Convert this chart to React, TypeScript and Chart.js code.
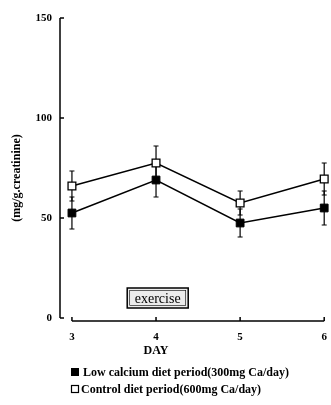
import React, { useEffect, useRef } from "react";
import { Chart, registerables } from "chart.js";
Chart.register(...registerables);

const days = [3, 4, 5, 6];
const lowCalcium = [52.5, 69, 47.5, 55];
const lowCalciumErr = [8, 8.5, 7, 8.5];
const control = [66, 77.5, 57.5, 69.5];
const controlErr = [7.5, 8.5, 6, 8];
const yTicks = [0, 50, 100, 150];
const xTicks = [3, 4, 5, 6];
const lowLabel = "Low calcium diet period(300mg Ca/day)";
const controlLabel = "Control diet period(600mg Ca/day)";
const yTitle = "(mg/g.creatinine)";
const xTitle = "DAY";
const boxText = "exercise";
const boxAt = { x: 4.02, y: 10 };

const FONT = "'Liberation Serif', 'DejaVu Serif', serif";

const drawPlugin = {
  id: "paperDraw",
  beforeDatasetsDraw(chart: any) {
    const ctx = chart.ctx;
    const xs = chart.scales.x;
    const ys = chart.scales.y;
    ctx.save();
    ctx.strokeStyle = "#000";
    ctx.fillStyle = "#000";
    ctx.lineWidth = 1.5;
    // y axis
    const x0 = chart.chartArea.left;
    ctx.beginPath();
    ctx.moveTo(x0, ys.getPixelForValue(0));
    ctx.lineTo(x0, ys.getPixelForValue(150));
    ctx.stroke();
    ctx.font = `bold 11px ${FONT}`;
    ctx.textAlign = "right";
    ctx.textBaseline = "middle";
    yTicks.forEach((t) => {
      const py = ys.getPixelForValue(t);
      ctx.beginPath();
      ctx.moveTo(x0, py);
      ctx.lineTo(x0 + 4, py);
      ctx.stroke();
      ctx.fillText(String(t), x0 - 8, py);
    });
    // x axis
    const yb = ys.getPixelForValue(0) + 3;
    ctx.beginPath();
    ctx.moveTo(xs.getPixelForValue(3), yb);
    ctx.lineTo(xs.getPixelForValue(6), yb);
    ctx.stroke();
    ctx.textAlign = "center";
    xTicks.forEach((t) => {
      const px = xs.getPixelForValue(t);
      ctx.beginPath();
      ctx.moveTo(px, yb);
      ctx.lineTo(px, yb - 4);
      ctx.stroke();
      ctx.fillText(String(t), px, yb + 16);
    });
    ctx.font = `bold 12px ${FONT}`;
    ctx.fillText(xTitle, xs.getPixelForValue(4), yb + 30);
    // y title
    ctx.save();
    ctx.translate(17, 178);
    ctx.rotate(-Math.PI / 2);
    ctx.font = `bold 12px ${FONT}`;
    ctx.fillText(yTitle, 0, 0);
    ctx.restore();
    // exercise box
    const bx = xs.getPixelForValue(boxAt.x);
    const by = ys.getPixelForValue(boxAt.y);
    const bw = 61, bh = 20;
    ctx.fillStyle = "#ececec";
    ctx.fillRect(bx - bw / 2, by - bh / 2, bw, bh);
    ctx.lineWidth = 1.5;
    ctx.strokeRect(bx - bw / 2, by - bh / 2, bw, bh);
    ctx.lineWidth = 0.6;
    ctx.strokeRect(bx - bw / 2 + 2.5, by - bh / 2 + 2.5, bw - 5, bh - 5);
    ctx.fillStyle = "#000";
    ctx.font = `14px ${FONT}`;
    ctx.fillText(boxText, bx, by + 1);
    // error bars
    ctx.lineWidth = 1.2;
    const drawErr = (vals: number[], errs: number[]) => {
      vals.forEach((v, i) => {
        const px = xs.getPixelForValue(days[i]);
        const top = ys.getPixelForValue(v + errs[i]);
        const bot = ys.getPixelForValue(v - errs[i]);
        ctx.beginPath();
        ctx.moveTo(px, top);
        ctx.lineTo(px, bot);
        ctx.moveTo(px - 2.5, top);
        ctx.lineTo(px + 2.5, top);
        ctx.moveTo(px - 2.5, bot);
        ctx.lineTo(px + 2.5, bot);
        ctx.stroke();
      });
    };
    drawErr(lowCalcium, lowCalciumErr);
    drawErr(control, controlErr);
    // legend
    ctx.textAlign = "left";
    ctx.font = `bold 12px ${FONT}`;
    ctx.fillStyle = "#000";
    ctx.fillRect(71, 368, 8, 8);
    ctx.fillText(lowLabel, 83, 373);
    ctx.lineWidth = 1.2;
    ctx.strokeRect(71.5, 385.5, 7, 7);
    ctx.fillText(controlLabel, 81, 390);
    ctx.restore();
  },
};

export default function App() {
  const ref = useRef<HTMLCanvasElement>(null);
  useEffect(() => {
    if (!ref.current) return;
    const chart = new Chart(ref.current, {
      type: "line",
      data: {
        datasets: [
          {
            label: lowLabel,
            data: days.map((d, i) => ({ x: d, y: lowCalcium[i] })),
            borderColor: "#000",
            backgroundColor: "#000",
            borderWidth: 1.5,
            pointStyle: "rect",
            pointRadius: 5.5,
            pointBorderColor: "#000",
            pointBackgroundColor: "#000",
            pointBorderWidth: 1,
          },
          {
            label: controlLabel,
            data: days.map((d, i) => ({ x: d, y: control[i] })),
            borderColor: "#000",
            backgroundColor: "#fff",
            borderWidth: 1.5,
            pointStyle: "rect",
            pointRadius: 5.5,
            pointBorderColor: "#000",
            pointBackgroundColor: "#fff",
            pointBorderWidth: 1.3,
          },
        ],
      },
      options: {
        animation: false,
        responsive: false,
        clip: false as any,
        layout: { padding: { left: 60, right: 5, top: 18, bottom: 87 } },
        plugins: { legend: { display: false }, tooltip: { enabled: false } },
        scales: {
          x: { type: "linear", min: 2.858, max: 6, display: false },
          y: { type: "linear", min: 0, max: 150, display: false },
        },
      },
      plugins: [drawPlugin],
    });
    return () => chart.destroy();
  }, []);
  return (
    <div style={{ position: "absolute", left: 0, top: 0, width: 331, height: 405, background: "#fff" }}>
      <canvas ref={ref} width={331} height={405} style={{ width: 331, height: 405 }} />
    </div>
  );
}
